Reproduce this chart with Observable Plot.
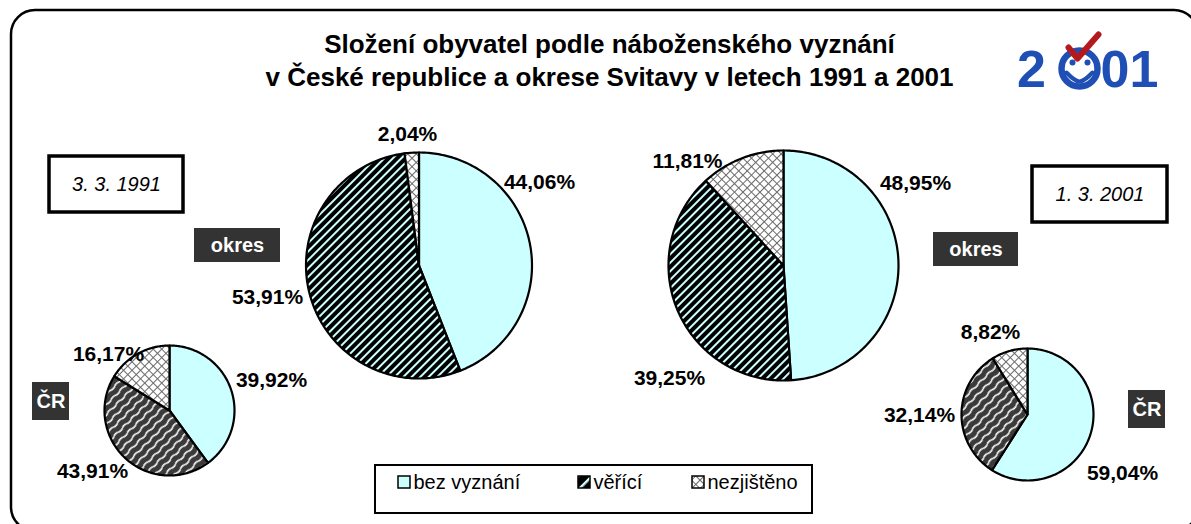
<!DOCTYPE html>
<html>
<head>
<meta charset="utf-8">
<script src="https://cdn.jsdelivr.net/npm/d3@7"></script>
<script src="https://cdn.jsdelivr.net/npm/@observablehq/plot@0.6"></script>
<style>
  html, body { margin: 0; padding: 0; background: #fff; }
  svg { display: block; }
</style>
</head>
<body>
<div id="chart"></div>
<script>
// ---------- DATA ----------
const pies = ["okres 1991", "ČR 1991", "okres 2001", "ČR 2001"];
const categories = ["bez vyznání", "věřící", "nezjištěno"];
const bezVyznani = [44.06, 39.92, 48.95, 59.04];
const verici = [53.91, 43.91, 39.25, 32.14];
const nezjisteno = [2.04, 16.17, 11.81, 8.82];
const pieTags = ["okres", "ČR", "okres", "ČR"];
const dates = ["3. 3. 1991", "1. 3. 2001"];
const titleLines = ["Složení obyvatel podle náboženského vyznání", "v České republice a okrese Svitavy v letech 1991 a 2001"];

// ---------- LAYOUT (pixels) ----------
const W = 1191, H = 524;
const pieGeom = [
  {cx: 418.5, cy: 265, r: 113, pattern: "url(#pVerOk)"},
  {cx: 169, cy: 410, r: 65, pattern: "url(#pVerCR)"},
  {cx: 783, cy: 265, r: 115, pattern: "url(#pVerOk)"},
  {cx: 1027, cy: 414, r: 66, pattern: "url(#pVerCR)"}
];
const labelPos = [
  [[539, 182], [267, 297], [407, 134]],
  [[271, 380], [92, 471], [108, 354]],
  [[915, 183], [669, 378], [687, 161]],
  [[1122, 473], [919, 415], [990, 332]]
];
const tagBoxes = [
  {x1: 194, x2: 280, y1: 228, y2: 262},
  {x1: 32, x2: 69, y1: 382, y2: 420},
  {x1: 933, x2: 1018, y1: 232, y2: 266},
  {x1: 1128, x2: 1165, y1: 390, y2: 428}
];
const dateBoxes = [
  {x1: 49, x2: 183, y1: 156, y2: 212},
  {x1: 1032, x2: 1167, y1: 166, y2: 222}
];
const legendBox = {x1: 375, x2: 812, y1: 465, y2: 513};
const legendX = [398, 578, 692];
const legendY = 482;
const catFill = ["#CCFFFF", "url(#pVerLeg)", "url(#pNez)"];
const FONT = "'Liberation Sans', Arial, Helvetica, sans-serif";

// ---------- BUILD SLICES ----------
const fmt = v => v.toFixed(2).replace(".", ",") + "%";
const slicePts = [];
const labels = [];
pies.forEach((p, i) => {
  const vals = [bezVyznani[i], verici[i], nezjisteno[i]];
  const arcs = d3.pie().sort(null).value(d => d)(vals);
  const g = pieGeom[i];
  arcs.forEach((a, k) => {
    const id = p + "|" + k;
    const pts = [{id, pie: i, cat: k, x: g.cx, y: g.cy}];
    const n = Math.max(2, Math.ceil((a.endAngle - a.startAngle) / (Math.PI / 180)));
    for (let s = 0; s <= n; s++) {
      const t = a.startAngle + (a.endAngle - a.startAngle) * s / n;
      pts.push({id, pie: i, cat: k, x: g.cx + g.r * Math.sin(t), y: g.cy - g.r * Math.cos(t)});
    }
    pts.push({id, pie: i, cat: k, x: g.cx, y: g.cy});
    slicePts.push(...pts);
    labels.push({x: labelPos[i][k][0], y: labelPos[i][k][1], text: fmt(vals[k])});
  });
});

const sliceMarks = [];
pies.forEach((p, i) => {
  [0, 1, 2].forEach(k => {
    sliceMarks.push(Plot.line(slicePts.filter(d => d.pie === i && d.cat === k), {
      x: "x", y: "y", z: "id",
      fill: k === 0 ? "#CCFFFF" : k === 1 ? pieGeom[i].pattern : "url(#pNez)",
      stroke: "black", strokeWidth: 2.2, strokeLinejoin: "round"
    }));
  });
});

const tagData = pieTags.map((t, i) => ({...tagBoxes[i], text: t, x: (tagBoxes[i].x1 + tagBoxes[i].x2) / 2, y: (tagBoxes[i].y1 + tagBoxes[i].y2) / 2}));
const dateData = dates.map((t, i) => ({...dateBoxes[i], text: t, x: (dateBoxes[i].x1 + dateBoxes[i].x2) / 2, y: (dateBoxes[i].y1 + dateBoxes[i].y2) / 2}));
const legendData = categories.map((c, k) => ({
  text: c, fill: catFill[k],
  x1: legendX[k], x2: legendX[k] + 12, y1: legendY - 6, y2: legendY + 6,
  tx: legendX[k] + 15, ty: legendY
}));
const titleData = titleLines.map((t, i) => ({text: t, x: 609, y: 44 + i * 33}));

// logo
const logoBlue = "#1f4fb5";
const logoTwo = [{text: "2", x: 1031, y: 86}];
const logoZeroOne = [{text: "01", x: 1100, y: 86}];
const logoFace = [{x: 1079, y: 68}];
const logoEyes = [{x: 1072, y: 62}, {x: 1087, y: 62}];
const logoSmile = [{x: 1066, y: 72}, {x: 1079, y: 81}, {x: 1092, y: 72}];
const logoCheck = [{x: 1068, y: 47}, {x: 1077, y: 58}, {x: 1098, y: 34}];

const chart = Plot.plot({
  width: W, height: H, margin: 0,
  x: {domain: [0, W], range: [0, W], axis: null},
  y: {domain: [0, H], range: [0, H], axis: null},
  style: {fontFamily: FONT, background: "white", overflow: "hidden"},
  marks: [
    // outer frame
    Plot.rect([{x1: 11, x2: 1198, y1: 10, y2: 531}], {x1: "x1", x2: "x2", y1: "y1", y2: "y2", rx: 24, fill: "white", stroke: "black", strokeWidth: 2.5}),
    // title
    Plot.text(titleData, {x: "x", y: "y", text: "text", fontSize: 26, fontWeight: "bold", fill: "black", fontFamily: FONT}),
    // logo
    Plot.text(logoTwo, {x: "x", y: "y", text: "text", fontSize: 52, fontWeight: "bold", fill: logoBlue, lineAnchor: "bottom", fontFamily: FONT}),
    Plot.text(logoZeroOne, {x: "x", y: "y", text: "text", textAnchor: "start", fontSize: 52, fontWeight: "bold", fill: logoBlue, lineAnchor: "bottom", fontFamily: FONT, letterSpacing: -3}),
    Plot.dot(logoFace, {x: "x", y: "y", r: 18, stroke: logoBlue, strokeWidth: 6.5, fill: "white"}),
    Plot.dot(logoEyes, {x: "x", y: "y", r: 3, fill: logoBlue}),
    Plot.line(logoSmile, {x: "x", y: "y", curve: "natural", stroke: logoBlue, strokeWidth: 4, strokeLinecap: "round"}),
    Plot.line(logoCheck, {x: "x", y: "y", stroke: "#b3191d", strokeWidth: 6, strokeLinecap: "round", strokeLinejoin: "round"}),
    // pies
    ...sliceMarks,
    // labels
    Plot.text(labels, {x: "x", y: "y", text: "text", fontSize: 21, fontWeight: "bold", fill: "black", fontFamily: FONT}),
    // tag boxes
    Plot.rect(tagData, {x1: "x1", x2: "x2", y1: "y1", y2: "y2", fill: "#333333"}),
    Plot.text(tagData, {x: "x", y: "y", text: "text", fontSize: 20, fontWeight: "bold", fill: "white", fontFamily: FONT}),
    // date boxes
    Plot.rect(dateData, {x1: "x1", x2: "x2", y1: "y1", y2: "y2", fill: "white", stroke: "black", strokeWidth: 3.5}),
    Plot.text(dateData, {x: "x", y: "y", text: "text", fontSize: 20, fontStyle: "italic", fill: "black", fontFamily: FONT}),
    // legend
    Plot.rect([legendBox], {x1: "x1", x2: "x2", y1: "y1", y2: "y2", fill: "white", stroke: "black", strokeWidth: 2}),
    ...legendData.map(d => Plot.rect([d], {x1: "x1", x2: "x2", y1: "y1", y2: "y2", fill: d.fill, stroke: "black", strokeWidth: 1.5})),
    Plot.text(legendData, {x: "tx", y: "ty", text: "text", textAnchor: "start", fontSize: 20, fill: "black", fontFamily: FONT})
  ]
});

// SVG patterns
const svg = d3.select(chart);
const defs = svg.insert("defs", ":first-child");
function stripePattern(id, w, h, rot) {
  return defs.append("pattern").attr("id", id).attr("patternUnits", "userSpaceOnUse")
    .attr("width", w).attr("height", h).attr("patternTransform", `rotate(${rot})`);
}
let p = stripePattern("pVerOk", 6, 6, 45);
p.append("rect").attr("width", 6).attr("height", 6).attr("fill", "#CCFFFF");
p.append("rect").attr("x", 0).attr("width", 4).attr("height", 6).attr("fill", "black");
p = stripePattern("pVerCR", 7, 12, 45);
p.append("rect").attr("width", 7).attr("height", 12).attr("fill", "#3a3a3a");
p.append("path").attr("d", "M3.5,0 Q5,3 3.5,6 Q2,9 3.5,12").attr("fill", "none").attr("stroke", "white").attr("stroke-width", 1.6);
p = stripePattern("pVerLeg", 10, 10, 45);
p.append("rect").attr("width", 10).attr("height", 10).attr("fill", "black");
p.append("rect").attr("x", 4).attr("width", 2.5).attr("height", 10).attr("fill", "#CCFFFF");
p = stripePattern("pNez", 6, 6, 45);
p.append("rect").attr("width", 6).attr("height", 6).attr("fill", "white");
p.append("path").attr("d", "M0,0.5 H6 M0.5,0 V6").attr("stroke", "#6a6a6a").attr("stroke-width", 1);

document.getElementById("chart").appendChild(chart);
</script>
</body>
</html>
